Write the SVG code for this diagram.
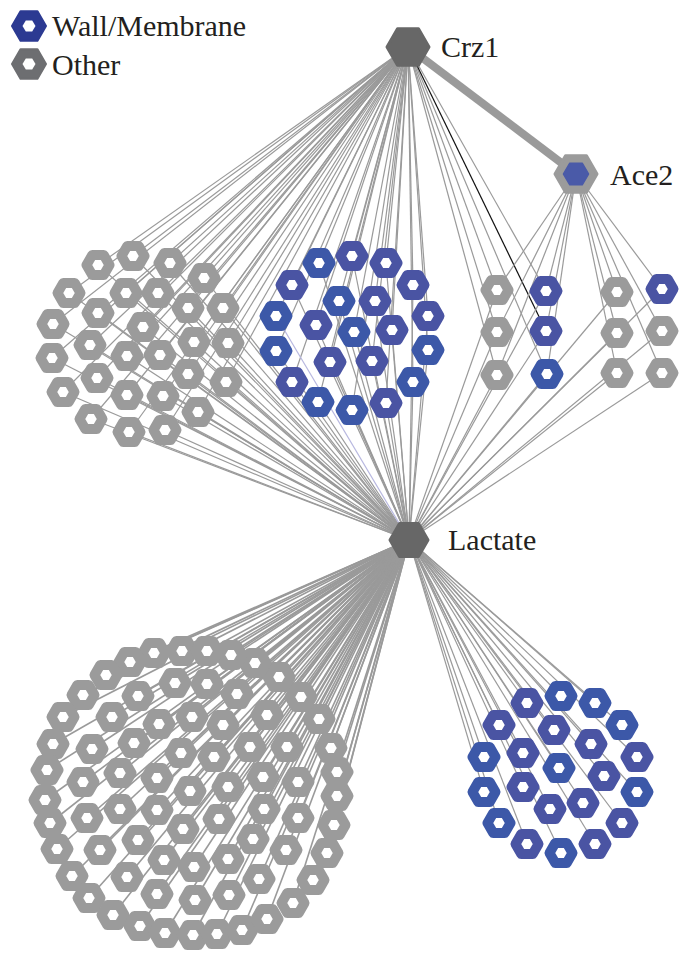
<svg xmlns="http://www.w3.org/2000/svg" width="681" height="953" viewBox="0 0 681 953">
<style>
.e line{stroke:#9a9a9a;stroke-width:1.2}
.eb line{stroke:#9a9a9a;stroke-width:1.6}
.g{stroke:#9b9b9b}
.b1{stroke:#3c58a8}
.b2{stroke:#4a54a3}
.lbl{font-family:'Liberation Serif','Tinos','Noto Serif','DejaVu Serif','FreeSerif','Times New Roman',Times,serif;font-size:30px;fill:#231f20}
</style>
<defs>
<polygon id="hx" points="11.5,0 5.75,9.96 -5.75,9.96 -11.5,0 -5.75,-9.96 5.75,-9.96" fill="#fff" stroke-width="10" stroke-linejoin="round"/>
</defs>
<rect width="681" height="953" fill="#fff"/>
<g id="connectors">
<g class="e" id="crz1-edges">
<line x1="408" y1="47" x2="98" y2="265"/><line x1="408" y1="47" x2="133" y2="256"/><line x1="408" y1="47" x2="170" y2="263"/><line x1="408" y1="47" x2="204" y2="278"/><line x1="408" y1="47" x2="69" y2="293"/><line x1="408" y1="47" x2="126" y2="293"/><line x1="408" y1="47" x2="158" y2="293"/><line x1="408" y1="47" x2="98" y2="313"/><line x1="408" y1="47" x2="188" y2="308"/><line x1="408" y1="47" x2="223" y2="308"/><line x1="408" y1="47" x2="53" y2="324"/><line x1="408" y1="47" x2="143" y2="327"/><line x1="408" y1="47" x2="194" y2="342"/><line x1="408" y1="47" x2="228" y2="343"/><line x1="408" y1="47" x2="90" y2="345"/><line x1="408" y1="47" x2="52" y2="358"/><line x1="408" y1="47" x2="127" y2="356"/><line x1="408" y1="47" x2="160" y2="355"/><line x1="408" y1="47" x2="188" y2="374"/><line x1="408" y1="47" x2="226" y2="382"/><line x1="408" y1="47" x2="63" y2="392"/><line x1="408" y1="47" x2="97" y2="378"/><line x1="408" y1="47" x2="127" y2="395"/><line x1="408" y1="47" x2="163" y2="396"/><line x1="408" y1="47" x2="198" y2="412"/><line x1="408" y1="47" x2="91" y2="419"/><line x1="408" y1="47" x2="129" y2="432"/><line x1="408" y1="47" x2="165" y2="430"/>
<line x1="408" y1="47" x2="319" y2="263"/><line x1="408" y1="47" x2="352" y2="256"/><line x1="408" y1="47" x2="386" y2="263"/><line x1="408" y1="47" x2="292" y2="285"/><line x1="408" y1="47" x2="413" y2="285"/><line x1="408" y1="47" x2="339" y2="301"/><line x1="408" y1="47" x2="375" y2="301"/><line x1="408" y1="47" x2="276" y2="316"/><line x1="408" y1="47" x2="428" y2="316"/><line x1="408" y1="47" x2="316" y2="325"/><line x1="408" y1="47" x2="354" y2="332"/><line x1="408" y1="47" x2="392" y2="330"/><line x1="408" y1="47" x2="276" y2="351"/><line x1="408" y1="47" x2="428" y2="350"/><line x1="408" y1="47" x2="330" y2="362"/><line x1="408" y1="47" x2="372" y2="361"/><line x1="408" y1="47" x2="292" y2="382"/><line x1="408" y1="47" x2="413" y2="382"/><line x1="408" y1="47" x2="318" y2="402"/><line x1="408" y1="47" x2="352" y2="410"/><line x1="408" y1="47" x2="386" y2="403"/>
<line x1="408" y1="47" x2="497" y2="290"/><line x1="408" y1="47" x2="546" y2="291"/><line x1="408" y1="47" x2="497" y2="332"/><line x1="408" y1="47" x2="497" y2="375"/><line x1="408" y1="47" x2="547" y2="374"/>
</g>
<line id="crz1-black" x1="408" y1="47" x2="546" y2="331" stroke="#111" stroke-width="1.2"/>
<g class="e" id="ace2-edges">
<line x1="576" y1="174" x2="497" y2="290"/><line x1="576" y1="174" x2="546" y2="291"/><line x1="576" y1="174" x2="617" y2="292"/><line x1="576" y1="174" x2="662" y2="289"/><line x1="576" y1="174" x2="497" y2="332"/><line x1="576" y1="174" x2="546" y2="331"/><line x1="576" y1="174" x2="617" y2="333"/><line x1="576" y1="174" x2="662" y2="331"/><line x1="576" y1="174" x2="497" y2="375"/><line x1="576" y1="174" x2="547" y2="374"/><line x1="576" y1="174" x2="617" y2="373"/><line x1="576" y1="174" x2="662" y2="373"/>
</g>
<g class="e" id="lactate-up-edges">
<line x1="409" y1="540" x2="98" y2="265"/><line x1="409" y1="540" x2="133" y2="256"/><line x1="409" y1="540" x2="170" y2="263"/><line x1="409" y1="540" x2="204" y2="278"/><line x1="409" y1="540" x2="69" y2="293"/><line x1="409" y1="540" x2="126" y2="293"/><line x1="409" y1="540" x2="158" y2="293"/><line x1="409" y1="540" x2="98" y2="313"/><line x1="409" y1="540" x2="188" y2="308"/><line x1="409" y1="540" x2="223" y2="308"/><line x1="409" y1="540" x2="53" y2="324"/><line x1="409" y1="540" x2="143" y2="327"/><line x1="409" y1="540" x2="194" y2="342"/><line x1="409" y1="540" x2="228" y2="343"/><line x1="409" y1="540" x2="90" y2="345"/><line x1="409" y1="540" x2="52" y2="358"/><line x1="409" y1="540" x2="127" y2="356"/><line x1="409" y1="540" x2="160" y2="355"/><line x1="409" y1="540" x2="188" y2="374"/><line x1="409" y1="540" x2="226" y2="382"/><line x1="409" y1="540" x2="63" y2="392"/><line x1="409" y1="540" x2="97" y2="378"/><line x1="409" y1="540" x2="127" y2="395"/><line x1="409" y1="540" x2="163" y2="396"/><line x1="409" y1="540" x2="198" y2="412"/><line x1="409" y1="540" x2="91" y2="419"/><line x1="409" y1="540" x2="129" y2="432"/><line x1="409" y1="540" x2="165" y2="430"/>
<line x1="409" y1="540" x2="319" y2="263"/><line x1="409" y1="540" x2="352" y2="256"/><line x1="409" y1="540" x2="386" y2="263"/><line x1="409" y1="540" x2="292" y2="285"/><line x1="409" y1="540" x2="413" y2="285"/><line x1="409" y1="540" x2="339" y2="301"/><line x1="409" y1="540" x2="375" y2="301"/><line x1="409" y1="540" x2="428" y2="316"/><line x1="409" y1="540" x2="316" y2="325"/><line x1="409" y1="540" x2="354" y2="332"/><line x1="409" y1="540" x2="392" y2="330"/><line x1="409" y1="540" x2="276" y2="351"/><line x1="409" y1="540" x2="428" y2="350"/><line x1="409" y1="540" x2="330" y2="362"/><line x1="409" y1="540" x2="372" y2="361"/><line x1="409" y1="540" x2="292" y2="382"/><line x1="409" y1="540" x2="413" y2="382"/><line x1="409" y1="540" x2="318" y2="402"/><line x1="409" y1="540" x2="352" y2="410"/><line x1="409" y1="540" x2="386" y2="403"/>
<line x1="409" y1="540" x2="497" y2="290"/><line x1="409" y1="540" x2="546" y2="291"/><line x1="409" y1="540" x2="617" y2="292"/><line x1="409" y1="540" x2="662" y2="289"/><line x1="409" y1="540" x2="497" y2="332"/><line x1="409" y1="540" x2="546" y2="331"/><line x1="409" y1="540" x2="617" y2="333"/><line x1="409" y1="540" x2="662" y2="331"/><line x1="409" y1="540" x2="497" y2="375"/><line x1="409" y1="540" x2="547" y2="374"/><line x1="409" y1="540" x2="617" y2="373"/><line x1="409" y1="540" x2="662" y2="373"/>
</g>
<line id="lactate-lavender" x1="409" y1="540" x2="276" y2="316" stroke="#b8b8e0" stroke-width="1.2"/>
<g class="eb" id="lactate-down-edges">
<line x1="409" y1="540" x2="182" y2="651"/><line x1="409" y1="540" x2="154" y2="653"/><line x1="409" y1="540" x2="130" y2="662"/><line x1="409" y1="540" x2="106" y2="675"/><line x1="409" y1="540" x2="83" y2="695"/><line x1="409" y1="540" x2="63" y2="717"/><line x1="409" y1="540" x2="53" y2="744"/><line x1="409" y1="540" x2="47" y2="770"/><line x1="409" y1="540" x2="45" y2="800"/><line x1="409" y1="540" x2="50" y2="823"/><line x1="409" y1="540" x2="57" y2="849"/><line x1="409" y1="540" x2="72" y2="876"/><line x1="409" y1="540" x2="89" y2="898"/><line x1="409" y1="540" x2="113" y2="915"/><line x1="409" y1="540" x2="140" y2="926"/><line x1="409" y1="540" x2="165" y2="933"/><line x1="409" y1="540" x2="193" y2="935"/><line x1="409" y1="540" x2="217" y2="934"/><line x1="409" y1="540" x2="242" y2="930"/><line x1="409" y1="540" x2="267" y2="919"/><line x1="409" y1="540" x2="293" y2="903"/><line x1="409" y1="540" x2="313" y2="880"/><line x1="409" y1="540" x2="327" y2="853"/><line x1="409" y1="540" x2="334" y2="825"/><line x1="409" y1="540" x2="337" y2="796"/><line x1="409" y1="540" x2="337" y2="772"/><line x1="409" y1="540" x2="331" y2="748"/><line x1="409" y1="540" x2="319" y2="719"/><line x1="409" y1="540" x2="301" y2="697"/><line x1="409" y1="540" x2="279" y2="677"/><line x1="409" y1="540" x2="255" y2="663"/><line x1="409" y1="540" x2="231" y2="655"/><line x1="409" y1="540" x2="207" y2="651"/>
<line x1="409" y1="540" x2="175" y2="683"/><line x1="409" y1="540" x2="207" y2="684"/><line x1="409" y1="540" x2="237" y2="694"/><line x1="409" y1="540" x2="138" y2="696"/><line x1="409" y1="540" x2="112" y2="717"/><line x1="409" y1="540" x2="159" y2="724"/><line x1="409" y1="540" x2="192" y2="717"/><line x1="409" y1="540" x2="223" y2="725"/><line x1="409" y1="540" x2="267" y2="715"/><line x1="409" y1="540" x2="92" y2="749"/><line x1="409" y1="540" x2="134" y2="743"/><line x1="409" y1="540" x2="181" y2="753"/><line x1="409" y1="540" x2="214" y2="757"/><line x1="409" y1="540" x2="250" y2="747"/><line x1="409" y1="540" x2="287" y2="747"/><line x1="409" y1="540" x2="83" y2="782"/><line x1="409" y1="540" x2="120" y2="773"/><line x1="409" y1="540" x2="157" y2="778"/><line x1="409" y1="540" x2="190" y2="791"/><line x1="409" y1="540" x2="228" y2="787"/><line x1="409" y1="540" x2="263" y2="777"/><line x1="409" y1="540" x2="298" y2="782"/><line x1="409" y1="540" x2="87" y2="818"/><line x1="409" y1="540" x2="120" y2="809"/><line x1="409" y1="540" x2="157" y2="810"/><line x1="409" y1="540" x2="183" y2="829"/><line x1="409" y1="540" x2="219" y2="819"/><line x1="409" y1="540" x2="264" y2="809"/><line x1="409" y1="540" x2="298" y2="818"/><line x1="409" y1="540" x2="100" y2="850"/><line x1="409" y1="540" x2="138" y2="840"/><line x1="409" y1="540" x2="164" y2="860"/><line x1="409" y1="540" x2="194" y2="867"/><line x1="409" y1="540" x2="228" y2="859"/><line x1="409" y1="540" x2="253" y2="839"/><line x1="409" y1="540" x2="286" y2="850"/><line x1="409" y1="540" x2="127" y2="877"/><line x1="409" y1="540" x2="157" y2="894"/><line x1="409" y1="540" x2="195" y2="900"/><line x1="409" y1="540" x2="229" y2="895"/><line x1="409" y1="540" x2="259" y2="879"/>
</g>
<g class="e" id="lactate-br-edges">
<line x1="409" y1="540" x2="561" y2="696"/><line x1="409" y1="540" x2="527" y2="703"/><line x1="409" y1="540" x2="595" y2="703"/><line x1="409" y1="540" x2="499" y2="725"/><line x1="409" y1="540" x2="622" y2="725"/><line x1="409" y1="540" x2="554" y2="730"/><line x1="409" y1="540" x2="591" y2="744"/><line x1="409" y1="540" x2="484" y2="757"/><line x1="409" y1="540" x2="523" y2="753"/><line x1="409" y1="540" x2="637" y2="757"/><line x1="409" y1="540" x2="559" y2="768"/><line x1="409" y1="540" x2="604" y2="776"/><line x1="409" y1="540" x2="484" y2="792"/><line x1="409" y1="540" x2="523" y2="787"/><line x1="409" y1="540" x2="637" y2="792"/><line x1="409" y1="540" x2="583" y2="803"/><line x1="409" y1="540" x2="550" y2="809"/><line x1="409" y1="540" x2="499" y2="823"/><line x1="409" y1="540" x2="622" y2="823"/><line x1="409" y1="540" x2="527" y2="844"/><line x1="409" y1="540" x2="561" y2="853"/><line x1="409" y1="540" x2="595" y2="844"/>
</g>
<line id="crz1-ace2" x1="408" y1="47" x2="576" y2="174" stroke="#9a9a9a" stroke-width="8"/>
</g>
<g id="legend">
<g id="legend-wall"><polygon points="46,26 37.5,40.7 20.5,40.7 12,26 20.5,11.3 37.5,11.3" fill="#2c3a92" stroke="#2c3a92" stroke-width="2" stroke-linejoin="round"/><polygon points="35.5,26 32.2,31.6 25.8,31.6 22.5,26 25.8,20.4 32.2,20.4" fill="#fff"/><text class="lbl" x="52" y="36">Wall/Membrane</text></g>
<g id="legend-other"><polygon points="46,64 37.5,78.7 20.5,78.7 12,64 20.5,49.3 37.5,49.3" fill="#6d6e71" stroke="#6d6e71" stroke-width="2" stroke-linejoin="round"/><polygon points="35.5,64 32.2,69.6 25.8,69.6 22.5,64 25.8,58.4 32.2,58.4" fill="#fff"/><text class="lbl" x="52" y="75">Other</text></g>
</g>
<g id="hubs">
<g id="crz1"><polygon points="429,47 418.5,65.2 397.5,65.2 387,47 397.5,28.8 418.5,28.8" fill="#676767" stroke="#676767" stroke-width="3" stroke-linejoin="round"/><text class="lbl" x="441" y="57">Crz1</text></g>
<g id="ace2"><polygon points="597,174 586.5,192.2 565.5,192.2 555,174 565.5,155.8 586.5,155.8" fill="#9b9b9b" stroke="#9b9b9b" stroke-width="3" stroke-linejoin="round"/><polygon points="588.5,174 582.2,184.8 569.8,184.8 563.5,174 569.8,163.2 582.2,163.2" fill="#4a5aa8" stroke="#4a5aa8" stroke-width="1.5" stroke-linejoin="round"/><text class="lbl" x="610" y="185">Ace2</text></g>
<g id="lactate"><polygon points="428,540 418.5,556.5 399.5,556.5 390,540 399.5,523.5 418.5,523.5" fill="#676767" stroke="#676767" stroke-width="3" stroke-linejoin="round"/><text class="lbl" x="448" y="550">Lactate</text></g>
</g>
<g id="cluster-upper-left" class="g">
<g id="ul1"><use href="#hx" x="98" y="265"/></g><g id="ul2"><use href="#hx" x="133" y="256"/></g><g id="ul3"><use href="#hx" x="170" y="263"/></g><g id="ul4"><use href="#hx" x="204" y="278"/></g><g id="ul5"><use href="#hx" x="69" y="293"/></g><g id="ul6"><use href="#hx" x="126" y="293"/></g><g id="ul7"><use href="#hx" x="158" y="293"/></g><g id="ul8"><use href="#hx" x="98" y="313"/></g><g id="ul9"><use href="#hx" x="188" y="308"/></g><g id="ul10"><use href="#hx" x="223" y="308"/></g><g id="ul11"><use href="#hx" x="53" y="324"/></g><g id="ul12"><use href="#hx" x="143" y="327"/></g><g id="ul13"><use href="#hx" x="194" y="342"/></g><g id="ul14"><use href="#hx" x="228" y="343"/></g><g id="ul15"><use href="#hx" x="90" y="345"/></g><g id="ul16"><use href="#hx" x="52" y="358"/></g><g id="ul17"><use href="#hx" x="127" y="356"/></g><g id="ul18"><use href="#hx" x="160" y="355"/></g><g id="ul19"><use href="#hx" x="188" y="374"/></g><g id="ul20"><use href="#hx" x="226" y="382"/></g><g id="ul21"><use href="#hx" x="63" y="392"/></g><g id="ul22"><use href="#hx" x="97" y="378"/></g><g id="ul23"><use href="#hx" x="127" y="395"/></g><g id="ul24"><use href="#hx" x="163" y="396"/></g><g id="ul25"><use href="#hx" x="198" y="412"/></g><g id="ul26"><use href="#hx" x="91" y="419"/></g><g id="ul27"><use href="#hx" x="129" y="432"/></g><g id="ul28"><use href="#hx" x="165" y="430"/></g>
</g>
<g id="cluster-upper-blue">
<g id="ub1" class="b1"><use href="#hx" x="319" y="263"/></g><g id="ub2" class="b2"><use href="#hx" x="352" y="256"/></g><g id="ub3" class="b2"><use href="#hx" x="386" y="263"/></g><g id="ub4" class="b2"><use href="#hx" x="292" y="285"/></g><g id="ub5" class="b2"><use href="#hx" x="413" y="285"/></g><g id="ub6" class="b1"><use href="#hx" x="339" y="301"/></g><g id="ub7" class="b2"><use href="#hx" x="375" y="301"/></g><g id="ub8" class="b1"><use href="#hx" x="276" y="316"/></g><g id="ub9" class="b2"><use href="#hx" x="428" y="316"/></g><g id="ub10" class="b2"><use href="#hx" x="316" y="325"/></g><g id="ub11" class="b1"><use href="#hx" x="354" y="332"/></g><g id="ub12" class="b2"><use href="#hx" x="392" y="330"/></g><g id="ub13" class="b1"><use href="#hx" x="276" y="351"/></g><g id="ub14" class="b1"><use href="#hx" x="428" y="350"/></g><g id="ub15" class="b2"><use href="#hx" x="330" y="362"/></g><g id="ub16" class="b2"><use href="#hx" x="372" y="361"/></g><g id="ub17" class="b2"><use href="#hx" x="292" y="382"/></g><g id="ub18" class="b1"><use href="#hx" x="413" y="382"/></g><g id="ub19" class="b1"><use href="#hx" x="318" y="402"/></g><g id="ub20" class="b1"><use href="#hx" x="352" y="410"/></g><g id="ub21" class="b2"><use href="#hx" x="386" y="403"/></g>
</g>
<g id="cluster-right">
<g id="r1" class="g"><use href="#hx" x="497" y="290"/></g><g id="r2" class="b2"><use href="#hx" x="546" y="291"/></g><g id="r3" class="g"><use href="#hx" x="617" y="292"/></g><g id="r4" class="b2"><use href="#hx" x="662" y="289"/></g><g id="r5" class="g"><use href="#hx" x="497" y="332"/></g><g id="r6" class="b2"><use href="#hx" x="546" y="331"/></g><g id="r7" class="g"><use href="#hx" x="617" y="333"/></g><g id="r8" class="g"><use href="#hx" x="662" y="331"/></g><g id="r9" class="g"><use href="#hx" x="497" y="375"/></g><g id="r10" class="b1"><use href="#hx" x="547" y="374"/></g><g id="r11" class="g"><use href="#hx" x="617" y="373"/></g><g id="r12" class="g"><use href="#hx" x="662" y="373"/></g>
</g>
<g id="cluster-bottom-left" class="g">
<g id="bl1"><use href="#hx" x="182" y="651"/></g><g id="bl2"><use href="#hx" x="154" y="653"/></g><g id="bl3"><use href="#hx" x="130" y="662"/></g><g id="bl4"><use href="#hx" x="106" y="675"/></g><g id="bl5"><use href="#hx" x="83" y="695"/></g><g id="bl6"><use href="#hx" x="63" y="717"/></g><g id="bl7"><use href="#hx" x="53" y="744"/></g><g id="bl8"><use href="#hx" x="47" y="770"/></g><g id="bl9"><use href="#hx" x="45" y="800"/></g><g id="bl10"><use href="#hx" x="50" y="823"/></g><g id="bl11"><use href="#hx" x="57" y="849"/></g><g id="bl12"><use href="#hx" x="72" y="876"/></g><g id="bl13"><use href="#hx" x="89" y="898"/></g><g id="bl14"><use href="#hx" x="113" y="915"/></g><g id="bl15"><use href="#hx" x="140" y="926"/></g><g id="bl16"><use href="#hx" x="165" y="933"/></g><g id="bl17"><use href="#hx" x="193" y="935"/></g><g id="bl18"><use href="#hx" x="217" y="934"/></g><g id="bl19"><use href="#hx" x="242" y="930"/></g><g id="bl20"><use href="#hx" x="267" y="919"/></g><g id="bl21"><use href="#hx" x="293" y="903"/></g><g id="bl22"><use href="#hx" x="313" y="880"/></g><g id="bl23"><use href="#hx" x="327" y="853"/></g><g id="bl24"><use href="#hx" x="334" y="825"/></g><g id="bl25"><use href="#hx" x="337" y="796"/></g><g id="bl26"><use href="#hx" x="337" y="772"/></g><g id="bl27"><use href="#hx" x="331" y="748"/></g><g id="bl28"><use href="#hx" x="319" y="719"/></g><g id="bl29"><use href="#hx" x="301" y="697"/></g><g id="bl30"><use href="#hx" x="279" y="677"/></g><g id="bl31"><use href="#hx" x="255" y="663"/></g><g id="bl32"><use href="#hx" x="231" y="655"/></g><g id="bl33"><use href="#hx" x="207" y="651"/></g>
<g id="bl34"><use href="#hx" x="175" y="683"/></g><g id="bl35"><use href="#hx" x="207" y="684"/></g><g id="bl36"><use href="#hx" x="237" y="694"/></g><g id="bl37"><use href="#hx" x="138" y="696"/></g><g id="bl38"><use href="#hx" x="112" y="717"/></g><g id="bl39"><use href="#hx" x="159" y="724"/></g><g id="bl40"><use href="#hx" x="192" y="717"/></g><g id="bl41"><use href="#hx" x="223" y="725"/></g><g id="bl42"><use href="#hx" x="267" y="715"/></g><g id="bl43"><use href="#hx" x="92" y="749"/></g><g id="bl44"><use href="#hx" x="134" y="743"/></g><g id="bl45"><use href="#hx" x="181" y="753"/></g><g id="bl46"><use href="#hx" x="214" y="757"/></g><g id="bl47"><use href="#hx" x="250" y="747"/></g><g id="bl48"><use href="#hx" x="287" y="747"/></g><g id="bl49"><use href="#hx" x="83" y="782"/></g><g id="bl50"><use href="#hx" x="120" y="773"/></g><g id="bl51"><use href="#hx" x="157" y="778"/></g><g id="bl52"><use href="#hx" x="190" y="791"/></g><g id="bl53"><use href="#hx" x="228" y="787"/></g><g id="bl54"><use href="#hx" x="263" y="777"/></g><g id="bl55"><use href="#hx" x="298" y="782"/></g><g id="bl56"><use href="#hx" x="87" y="818"/></g><g id="bl57"><use href="#hx" x="120" y="809"/></g><g id="bl58"><use href="#hx" x="157" y="810"/></g><g id="bl59"><use href="#hx" x="183" y="829"/></g><g id="bl60"><use href="#hx" x="219" y="819"/></g><g id="bl61"><use href="#hx" x="264" y="809"/></g><g id="bl62"><use href="#hx" x="298" y="818"/></g><g id="bl63"><use href="#hx" x="100" y="850"/></g><g id="bl64"><use href="#hx" x="138" y="840"/></g><g id="bl65"><use href="#hx" x="164" y="860"/></g><g id="bl66"><use href="#hx" x="194" y="867"/></g><g id="bl67"><use href="#hx" x="228" y="859"/></g><g id="bl68"><use href="#hx" x="253" y="839"/></g><g id="bl69"><use href="#hx" x="286" y="850"/></g><g id="bl70"><use href="#hx" x="127" y="877"/></g><g id="bl71"><use href="#hx" x="157" y="894"/></g><g id="bl72"><use href="#hx" x="195" y="900"/></g><g id="bl73"><use href="#hx" x="229" y="895"/></g><g id="bl74"><use href="#hx" x="259" y="879"/></g>
</g>
<g id="cluster-bottom-right">
<g id="br1" class="b1"><use href="#hx" x="561" y="696"/></g><g id="br2" class="b2"><use href="#hx" x="527" y="703"/></g><g id="br3" class="b1"><use href="#hx" x="595" y="703"/></g><g id="br4" class="b2"><use href="#hx" x="499" y="725"/></g><g id="br5" class="b1"><use href="#hx" x="622" y="725"/></g><g id="br6" class="b2"><use href="#hx" x="554" y="730"/></g><g id="br7" class="b2"><use href="#hx" x="591" y="744"/></g><g id="br8" class="b1"><use href="#hx" x="484" y="757"/></g><g id="br9" class="b2"><use href="#hx" x="523" y="753"/></g><g id="br10" class="b2"><use href="#hx" x="637" y="757"/></g><g id="br11" class="b1"><use href="#hx" x="559" y="768"/></g><g id="br12" class="b2"><use href="#hx" x="604" y="776"/></g><g id="br13" class="b1"><use href="#hx" x="484" y="792"/></g><g id="br14" class="b2"><use href="#hx" x="523" y="787"/></g><g id="br15" class="b1"><use href="#hx" x="637" y="792"/></g><g id="br16" class="b2"><use href="#hx" x="583" y="803"/></g><g id="br17" class="b2"><use href="#hx" x="550" y="809"/></g><g id="br18" class="b1"><use href="#hx" x="499" y="823"/></g><g id="br19" class="b2"><use href="#hx" x="622" y="823"/></g><g id="br20" class="b2"><use href="#hx" x="527" y="844"/></g><g id="br21" class="b1"><use href="#hx" x="561" y="853"/></g><g id="br22" class="b2"><use href="#hx" x="595" y="844"/></g>
</g>
</svg>
